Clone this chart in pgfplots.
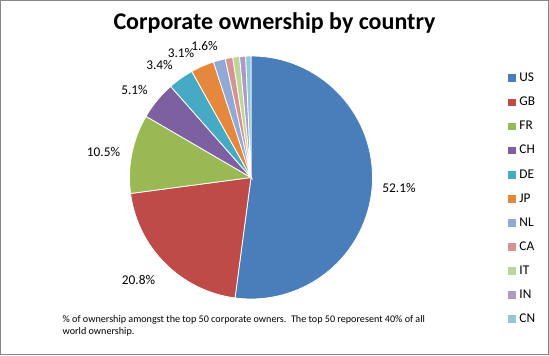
\documentclass[border=0pt]{standalone}
\usepackage{pgfplots}
\pgfplotsset{compat=1.18}
\usepackage{pgfplotstable}
\usepackage{fontspec}
\setmainfont{Carlito}

\definecolor{slice0}{HTML}{4A7EBB}
\definecolor{slice1}{HTML}{BE4B48}
\definecolor{slice2}{HTML}{98B954}
\definecolor{slice3}{HTML}{7D60A0}
\definecolor{slice4}{HTML}{46AAC5}
\definecolor{slice5}{HTML}{E5873C}
\definecolor{slice6}{HTML}{93A9D5}
\definecolor{slice7}{HTML}{D69490}
\definecolor{slice8}{HTML}{BFD49A}
\definecolor{slice9}{HTML}{A99BC5}
\definecolor{slice10}{HTML}{92C7D8}
\definecolor{frame}{HTML}{868686}

% value = share in %, lx/ly = label position (axis units, radius = 1), lab = show label
\pgfplotstableread{
name value lx ly lab
US 52.1 1.218 -0.086 1
GB 20.8 -0.926 -0.844 1
FR 10.5 -1.214 0.210 1
CH 5.1 -0.959 0.720 1
DE 3.4 -0.753 0.926 1
JP 3.1 -0.576 1.025 1
NL 1.6 -0.383 1.082 1
CA 1.0 0 0 0
IT 0.9 0 0 0
IN 0.8 0 0 0
CN 0.7 0 0 0
}\piedata

\begin{document}
\begin{tikzpicture}[x=0.75pt,y=0.75pt]
\useasboundingbox (0,0) rectangle (549,355);
\draw[frame, line width=0.75pt] (0.5,0.5) rectangle (548.5,354.5);
\node[anchor=base, font=\fontsize{18}{22}\selectfont\bfseries] at (274.5,{355-29.8}) {Corporate ownership by country};
\begin{axis}[
  at={(188.25pt,133.125pt)}, anchor=center,
  scale only axis, width=182.25pt, height=182.25pt,
  xmin=-1, xmax=1, ymin=-1, ymax=1,
  hide axis, clip=false,
  legend image code/.code={\path[#1, draw=none] (0pt,-2.9pt) rectangle (5.8pt,2.9pt);},
  legend style={draw=none, fill=none, inner sep=0pt, outer sep=0pt,
    at={(axis cs:2.118,0.866)}, anchor=north west,
    row sep=9.075pt, column sep=2.5pt,
    font=\fontsize{10}{12}\selectfont,
    nodes={inner sep=0pt, text height=7pt, text depth=2pt},
    cells={anchor=west}},
]
\pgfplotsinvokeforeach{0,...,10}{\addlegendimage{fill=slice#1}}
\legend{US,GB,FR,CH,DE,JP,NL,CA,IT,IN,CN}
\pgfplotsextra{%
  \gdef\curang{90}%
  \foreach \i in {0,...,10}{%
    \pgfplotstablegetelem{\i}{value}\of\piedata \let\val\pgfplotsretval
    \pgfplotstablegetelem{\i}{lx}\of\piedata \let\lx\pgfplotsretval
    \pgfplotstablegetelem{\i}{ly}\of\piedata \let\ly\pgfplotsretval
    \pgfplotstablegetelem{\i}{lab}\of\piedata \let\lab\pgfplotsretval
    \pgfmathsetmacro{\endang}{\curang-3.6*\val}%
    \filldraw[fill=slice\i, draw=white, line width=0.6pt] (axis cs:0,0) -- ++(\curang:91.125pt) arc[start angle=\curang, end angle=\endang, radius=91.125pt] -- cycle;
    \ifnum\lab=1 \node[font=\fontsize{10}{12}\selectfont] at (axis cs:\lx,\ly) {\val\%};\fi
    \xdef\curang{\endang}%
  }%
}
\end{axis}
\node[anchor=base west, font=\fontsize{7.6}{9}\selectfont] at (58,{355-322.5}) {\% of ownership amongst the top 50 corporate owners.\ \ The top 50 reporesent 40\% of all};
\node[anchor=base west, font=\fontsize{7.6}{9}\selectfont] at (58,{355-334}) {world ownership.};
\end{tikzpicture}
\end{document}
